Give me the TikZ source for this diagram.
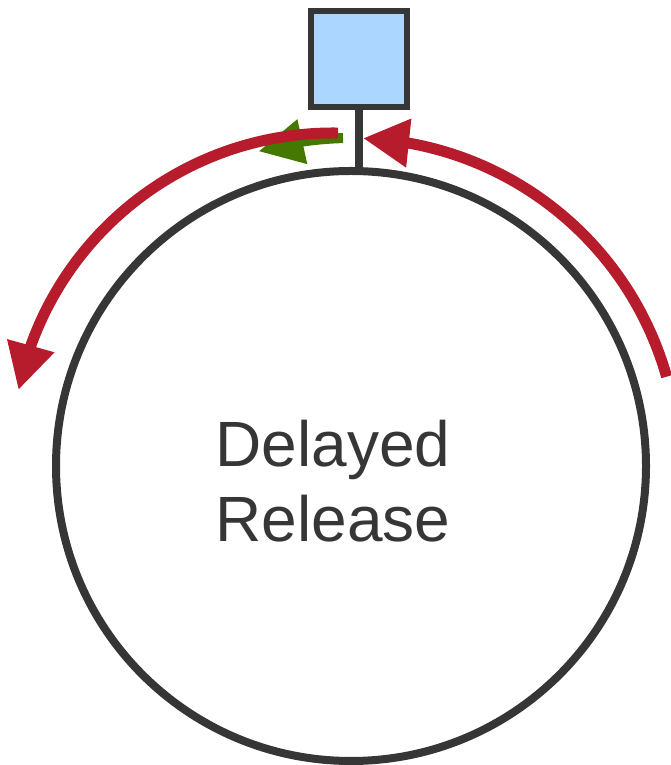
\documentclass[tikz,border=0pt]{standalone}
\usepackage{fontspec}
\setmainfont{Liberation Sans}
\usetikzlibrary{arrows.meta,bending}
\definecolor{dkgray}{RGB}{54,54,54}
\definecolor{arrred}{RGB}{183,28,44}
\definecolor{arrgreen}{RGB}{68,120,0}
\definecolor{boxblue}{RGB}{170,214,255}
\tikzset{
  ring/.style={circle,draw=dkgray,line width=8pt,minimum size=590pt,inner sep=0pt,outer sep=0pt},
  boxnode/.style={rectangle,draw=dkgray,fill=boxblue,line width=6pt,minimum size=96pt,inner sep=0pt,outer sep=0pt},
  stem/.style={draw=dkgray,line width=8pt},
  redarrow/.style={draw=arrred,line width=11pt,-{Triangle[length=46pt,width=46pt,fill=arrred]}},
  greenarrow/.style={draw=arrgreen,line width=10pt,-{Triangle[length=45pt,width=43pt,fill=arrgreen]}},
  label/.style={text=dkgray,font=\fontsize{64pt}{75pt}\selectfont,align=center,inner sep=0pt}
}
\begin{document}
\begin{tikzpicture}[x=1pt,y=1pt]
\useasboundingbox (0,0) rectangle (671,765);
% circle and box
\node[ring] (c) at (351,299) {};
\node[boxnode] (sq) at (359,706) {};
\coordinate (stemfoot) at (359,594);
\draw[stem] (sq.south) -- (stemfoot);
\node[label] (txt) at (333,284) {Delayed\\Release};
% arrows
\path (351,299) ++(91.4:328) coordinate (gstart);
\draw[greenarrow] (gstart) arc[start angle=91.4,end angle=106.4,radius=328];
\path (333,311) ++(89.1:321) coordinate (lstart);
\draw[redarrow] (lstart) arc[start angle=89.1,end angle=168.5,radius=321];
\path (351,299) ++(15.8:328) coordinate (rstart);
\draw[redarrow] (rstart) arc[start angle=15.8,end angle=87.9,radius=328];
\end{tikzpicture}
\end{document}
